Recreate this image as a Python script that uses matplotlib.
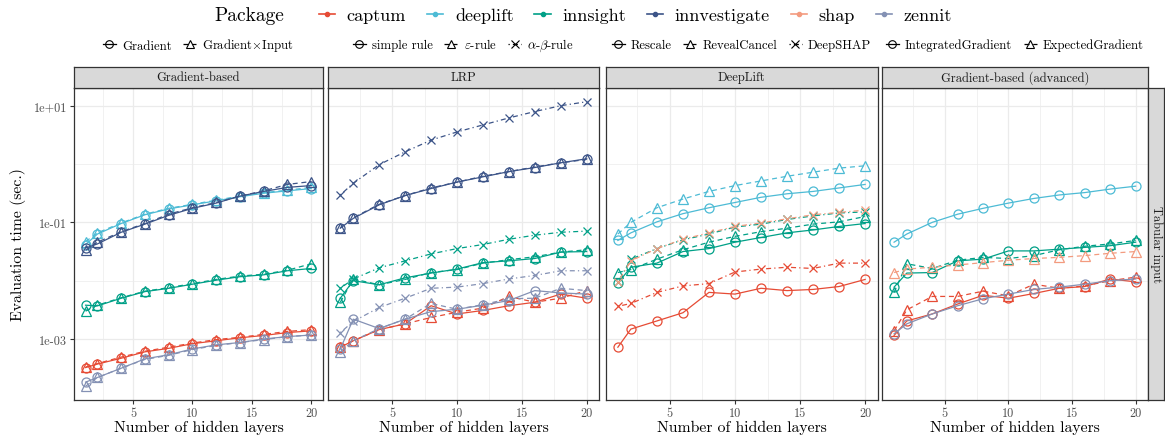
import matplotlib
matplotlib.use("Agg")
import matplotlib.pyplot as plt
from matplotlib.lines import Line2D
from matplotlib.ticker import FixedLocator, NullFormatter

plt.rcParams['font.family'] = 'serif'
plt.rcParams['font.serif'] = ['cmr10', 'DejaVu Serif']
plt.rcParams['mathtext.fontset'] = 'cm'
plt.rcParams['axes.unicode_minus'] = False

layers = [1, 2, 4, 6, 8, 10, 12, 14, 16, 18, 20]

# Gradient-based (seconds)
captum_grad = [0.000324, 0.000372, 0.000468, 0.000603, 0.000692, 0.000832, 0.000933, 0.00105, 0.00115, 0.00129, 0.00138]
captum_gxi = [0.000331, 0.00038, 0.00049, 0.000617, 0.000724, 0.000851, 0.000977, 0.00107, 0.0012, 0.00135, 0.00145]
deeplift_grad = [0.0417, 0.0631, 0.0955, 0.135, 0.170, 0.200, 0.234, 0.275, 0.316, 0.347, 0.380]
deeplift_gxi = [0.0468, 0.0661, 0.0977, 0.138, 0.174, 0.204, 0.240, 0.282, 0.324, 0.355, 0.398]
innsight_grad = [0.0038, 0.0037, 0.0050, 0.0065, 0.0074, 0.0087, 0.0102, 0.0117, 0.0126, 0.0148, 0.0162]
innsight_gxi = [0.0030, 0.0038, 0.0051, 0.0066, 0.0076, 0.0089, 0.0105, 0.0120, 0.0129, 0.0151, 0.0195]
innvestigate_grad = [0.0363, 0.0427, 0.0676, 0.0933, 0.132, 0.174, 0.214, 0.282, 0.339, 0.398, 0.427]
innvestigate_gxi = [0.0331, 0.0457, 0.0692, 0.0955, 0.138, 0.178, 0.219, 0.282, 0.347, 0.447, 0.501]
zennit_grad = [0.000182, 0.000219, 0.000316, 0.000457, 0.000537, 0.000676, 0.000794, 0.000871, 0.001, 0.0011, 0.00117]
zennit_gxi = [0.000155, 0.000219, 0.000316, 0.000447, 0.000525, 0.000661, 0.000776, 0.000871, 0.000977, 0.0011, 0.00117]

# LRP
captum_simple = [0.000724, 0.000933, 0.00145, 0.00182, 0.00372, 0.00269, 0.00309, 0.00372, 0.00427, 0.00589, 0.00501]
captum_eps = [0.000741, 0.000933, 0.00145, 0.00182, 0.00234, 0.00288, 0.00339, 0.00537, 0.00427, 0.00501, 0.00676]
innsight_simple = [0.00501, 0.0100, 0.00851, 0.0112, 0.0135, 0.0158, 0.0204, 0.0219, 0.0240, 0.0309, 0.0316]
innsight_eps = [0.00427, 0.0107, 0.00851, 0.0105, 0.0138, 0.0155, 0.0200, 0.0229, 0.0257, 0.0309, 0.0339]
innsight_ab = [0.00741, 0.0107, 0.0166, 0.0219, 0.0288, 0.0355, 0.0417, 0.0513, 0.0603, 0.0676, 0.0708]
innvestigate_simple = [0.0794, 0.117, 0.200, 0.288, 0.380, 0.490, 0.603, 0.741, 0.871, 1.05, 1.23]
innvestigate_eps = [0.0813, 0.120, 0.204, 0.288, 0.389, 0.490, 0.617, 0.741, 0.891, 1.05, 1.20]
innvestigate_ab = [0.295, 0.468, 0.977, 1.62, 2.57, 3.55, 4.68, 6.17, 7.94, 10.0, 11.7]
zennit_simple = [0.000676, 0.00219, 0.00151, 0.00219, 0.00295, 0.00324, 0.0038, 0.00457, 0.00676, 0.00617, 0.00589]
zennit_eps = [0.000603, 0.000933, 0.00151, 0.00219, 0.00407, 0.00324, 0.00389, 0.0049, 0.00501, 0.00741, 0.00676]
zennit_ab = [0.00129, 0.0020, 0.00347, 0.00501, 0.00741, 0.00776, 0.00891, 0.0107, 0.0123, 0.0148, 0.0148]

# DeepLift
captum_rescale = [0.000724, 0.00148, 0.00204, 0.00282, 0.0063, 0.00589, 0.00741, 0.00676, 0.00708, 0.00794, 0.0105]
captum_deepshap = [0.00363, 0.00407, 0.0063, 0.00813, 0.00891, 0.0141, 0.0158, 0.017, 0.0162, 0.020, 0.020]
deeplift_rescale = [0.049, 0.0661, 0.102, 0.141, 0.178, 0.219, 0.269, 0.309, 0.339, 0.389, 0.447]
deeplift_reveal = [0.0631, 0.100, 0.178, 0.251, 0.339, 0.427, 0.513, 0.617, 0.724, 0.851, 0.933]
innsight_rescale = [0.00912, 0.017, 0.020, 0.0316, 0.0355, 0.0457, 0.055, 0.0661, 0.0741, 0.0851, 0.0955]
innsight_reveal = [0.0138, 0.0155, 0.0234, 0.0339, 0.0457, 0.0575, 0.0692, 0.0794, 0.0933, 0.102, 0.126]
innsight_deepshap = [0.00933, 0.0234, 0.0355, 0.0501, 0.0631, 0.0832, 0.0933, 0.112, 0.129, 0.145, 0.151]
shap_deepshap = [0.00955, 0.0219, 0.0355, 0.0513, 0.0661, 0.0851, 0.0977, 0.115, 0.135, 0.148, 0.162]

# Gradient-based (advanced)
captum_ig = [0.00115, 0.00204, 0.00269, 0.00398, 0.00562, 0.00501, 0.00603, 0.00741, 0.00794, 0.0107, 0.00955]
captum_eg = [0.00138, 0.00316, 0.00537, 0.00537, 0.00661, 0.0055, 0.00871, 0.00741, 0.00813, 0.010, 0.0115]
deeplift_ig = [0.0457, 0.0631, 0.100, 0.138, 0.174, 0.214, 0.257, 0.295, 0.324, 0.372, 0.417]
innsight_ig = [0.00776, 0.0135, 0.0138, 0.0219, 0.0234, 0.0324, 0.0324, 0.0347, 0.0372, 0.0398, 0.0457]
innsight_eg = [0.0063, 0.0195, 0.0162, 0.0224, 0.0251, 0.0240, 0.0269, 0.0339, 0.0389, 0.0427, 0.049]
shap_eg = [0.0138, 0.0158, 0.017, 0.0186, 0.0204, 0.0224, 0.024, 0.0251, 0.0269, 0.0295, 0.0316]
zennit_ig = [0.00123, 0.00182, 0.00269, 0.00372, 0.0049, 0.00589, 0.00708, 0.00776, 0.00871, 0.010, 0.0107]

packages = ['captum', 'deeplift', 'innsight', 'innvestigate', 'shap', 'zennit']
pkg_colors = ['#E64B35', '#4DBBD5', '#00A087', '#3C5488', '#F39B7F', '#8491B4']
COLOR = dict(zip(packages, pkg_colors))

# marker / line type per method kind
STYLE = {
    'o': ('o', '-'),
    '^': ('^', (0, (4, 3))),
    'x': ('x', (0, (1, 2.5, 4, 2.5))),
}

panels = [
    ('Gradient-based',
     [('captum', 'o', captum_grad), ('captum', '^', captum_gxi),
      ('deeplift', 'o', deeplift_grad), ('deeplift', '^', deeplift_gxi),
      ('innsight', 'o', innsight_grad), ('innsight', '^', innsight_gxi),
      ('innvestigate', 'o', innvestigate_grad), ('innvestigate', '^', innvestigate_gxi),
      ('zennit', 'o', zennit_grad), ('zennit', '^', zennit_gxi)],
     ['Gradient', r'Gradient$\times$Input'], ['o', '^']),
    ('LRP',
     [('captum', 'o', captum_simple), ('captum', '^', captum_eps),
      ('innsight', 'o', innsight_simple), ('innsight', '^', innsight_eps), ('innsight', 'x', innsight_ab),
      ('innvestigate', 'o', innvestigate_simple), ('innvestigate', '^', innvestigate_eps),
      ('innvestigate', 'x', innvestigate_ab),
      ('zennit', 'o', zennit_simple), ('zennit', '^', zennit_eps), ('zennit', 'x', zennit_ab)],
     ['simple rule', r'$\varepsilon$-rule', r'$\alpha$-$\beta$-rule'], ['o', '^', 'x']),
    ('DeepLift',
     [('captum', 'o', captum_rescale), ('captum', 'x', captum_deepshap),
      ('deeplift', 'o', deeplift_rescale), ('deeplift', '^', deeplift_reveal),
      ('innsight', 'o', innsight_rescale), ('innsight', '^', innsight_reveal),
      ('innsight', 'x', innsight_deepshap), ('shap', 'x', shap_deepshap)],
     ['Rescale', 'RevealCancel', 'DeepSHAP'], ['o', '^', 'x']),
    ('Gradient-based (advanced)',
     [('captum', 'o', captum_ig), ('captum', '^', captum_eg),
      ('deeplift', 'o', deeplift_ig),
      ('innsight', 'o', innsight_ig), ('innsight', '^', innsight_eg),
      ('shap', '^', shap_eg), ('zennit', 'o', zennit_ig)],
     ['IntegratedGradient', 'ExpectedGradient'], ['o', '^']),
]

W, H = 1165, 439
fig = plt.figure(figsize=(W / 100, H / 100), dpi=100)


def px_rect(x0, x1, ytop, ybot):
    return [x0 / W, 1 - ybot / H, (x1 - x0) / W, (ybot - ytop) / H]


panel_x = [(74.3, 322.5), (328, 599), (605.5, 877.5), (882, 1147.7)]
top, bottom, strip_top = 88.5, 400.5, 67.5
border = '#333333'

for i, ((title, series, mlabels, mkinds), (x0, x1)) in enumerate(zip(panels, panel_x)):
    ax = fig.add_axes(px_rect(x0, x1, top, bottom))
    for pkg, kind, vals in series:
        marker, ls = STYLE[kind]
        ax.plot(layers, vals, color=COLOR[pkg], lw=0.9, ls=ls, marker=marker,
                markersize=6.5 if kind != 'x' else 6, mfc='none', mew=0.9)
    ax.set_yscale('log')
    ax.set_xlim(0.05, 20.95)
    ax.set_ylim(10 ** -4.037, 10 ** 1.312)
    ax.set_xticks([5, 10, 15, 20])
    ax.xaxis.set_minor_locator(FixedLocator([2.5, 7.5, 12.5, 17.5]))
    ax.set_yticks([10, 0.1, 0.001])
    ax.yaxis.set_minor_locator(FixedLocator([1, 0.01]))
    ax.yaxis.set_minor_formatter(NullFormatter())
    ax.grid(True, which='major', color='#EBEBEB', lw=0.9)
    ax.grid(True, which='minor', color='#EBEBEB', lw=0.5)
    ax.set_axisbelow(True)
    for s in ax.spines.values():
        s.set_color(border)
        s.set_linewidth(0.9)
    ax.tick_params(which='major', length=3, width=0.8, color=border, labelsize=8.8,
                   labelcolor='#4D4D4D', pad=2)
    ax.tick_params(which='minor', length=0)
    if i == 0:
        ax.set_yticklabels(['1e+01', '1e-01', '1e-03'])
        ax.set_ylabel('Evaluation time (sec.)', fontsize=11.3, labelpad=6)
    else:
        ax.tick_params(axis='y', which='both', left=False, labelleft=False)
    ax.set_xlabel('Number of hidden layers', fontsize=11.3, labelpad=1)

    # facet strip
    sax = fig.add_axes(px_rect(x0, x1, strip_top, top))
    sax.set_facecolor('#D9D9D9')
    sax.set_xticks([])
    sax.set_yticks([])
    for s in sax.spines.values():
        s.set_color(border)
        s.set_linewidth(0.9)
    sax.text(0.5, 0.5, title, ha='center', va='center', fontsize=9, color='#1A1A1A',
             transform=sax.transAxes)

    # method legend above each panel
    handles = [Line2D([], [], color='black', lw=0.9, marker=STYLE[k][0], ls=STYLE[k][1],
                      markersize=5.5, mfc='none', mew=0.8) for k in mkinds]
    fig.legend(handles, mlabels, loc='center', bbox_to_anchor=((x0 + x1) / 2 / W, 1 - 46 / H),
               ncol=len(mlabels), frameon=False, fontsize=9.2, handlelength=1.0,
               handletextpad=0.5, columnspacing=0.9, borderpad=0, borderaxespad=0)

# row strip on the right
rax = fig.add_axes(px_rect(1147.7, 1164, top, bottom))
rax.set_facecolor('#D9D9D9')
rax.set_xticks([])
rax.set_yticks([])
for s in rax.spines.values():
    s.set_color(border)
    s.set_linewidth(0.9)
rax.text(0.5, 0.5, 'Tabular input', ha='center', va='center', rotation=-90, fontsize=9,
         color='#1A1A1A', transform=rax.transAxes)

# package legend
pkg_handles = [Line2D([], [], color=c, lw=1.2, marker='o', markersize=3) for c in pkg_colors]
fig.legend(pkg_handles, packages, loc='center', bbox_to_anchor=(635.5 / W, 1 - 16 / H),
           ncol=6, frameon=False, fontsize=13, handlelength=0.9, handletextpad=0.65,
           columnspacing=1.15, borderpad=0, borderaxespad=0)
fig.text(214 / W, 1 - 16 / H, 'Package', ha='left', va='center', fontsize=14)

fig.savefig('out.png', dpi=100)
